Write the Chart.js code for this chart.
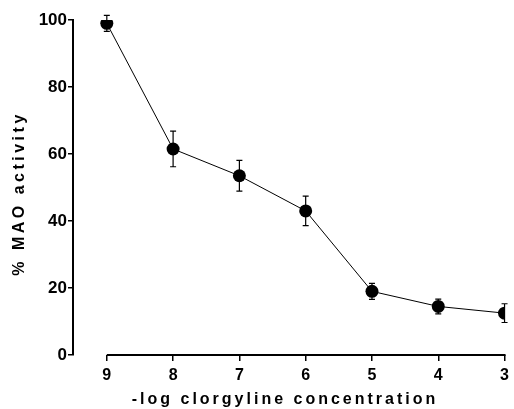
<!DOCTYPE html>
<html>
<head>
<meta charset="utf-8">
<script src="https://cdn.jsdelivr.net/npm/chart.js@4/dist/chart.umd.min.js"></script>
<style>
  html, body { margin: 0; padding: 0; background: #fff; }
  #wrap { width: 514px; height: 409px; }
</style>
</head>
<body>
<div id="wrap"><canvas id="c" width="514" height="409"></canvas></div>
<script>
// -log clorgyline concentration (x) and % MAO activity (mean ± error)
const logConc = [9, 8, 7, 6, 5, 4, 3];
const maoActivity = [99, 61.5, 53.5, 43, 19, 14.5, 12.5];
const maoError = [2.4, 5.3, 4.6, 4.4, 2.4, 2.2, 2.8];
const yTicks = [0, 20, 40, 60, 80, 100];
const xTitle = '-log clorgyline concentration';
const yTitle = '% MAO activity';

const FONT = '"Liberation Sans", Arial, Helvetica, sans-serif';

const errorBars = {
  id: 'errorBars',
  beforeDatasetsDraw(chart) {
    const ctx = chart.ctx;
    const xs = chart.scales.x, ys = chart.scales.y;
    ctx.save();
    ctx.strokeStyle = '#000';
    ctx.lineWidth = 1.2;
    logConc.forEach((xv, i) => {
      const px = xs.getPixelForValue(xv);
      const top = ys.getPixelForValue(maoActivity[i] + maoError[i]);
      const bot = ys.getPixelForValue(maoActivity[i] - maoError[i]);
      ctx.beginPath();
      ctx.moveTo(px, top); ctx.lineTo(px, bot);
      ctx.moveTo(px - 3, top); ctx.lineTo(px + 3, top);
      ctx.moveTo(px - 3, bot); ctx.lineTo(px + 3, bot);
      ctx.stroke();
    });
    ctx.restore();
  },
  afterDraw(chart) {
    const ctx = chart.ctx;
    const xs = chart.scales.x, ys = chart.scales.y;
    const area = chart.chartArea;
    ctx.save();
    // x axis line spanning the category range only
    ctx.strokeStyle = '#000';
    ctx.lineWidth = 2;
    ctx.beginPath();
    ctx.moveTo(xs.getPixelForValue(logConc[0]), area.bottom);
    ctx.lineTo(xs.getPixelForValue(logConc[logConc.length - 1]) + 1, area.bottom);
    ctx.stroke();
    // titles
    ctx.fillStyle = '#000';
    ctx.font = 'bold 16px ' + FONT;
    ctx.letterSpacing = '3px';
    ctx.textAlign = 'center';
    ctx.textBaseline = 'alphabetic';
    ctx.fillText(xTitle, 285, 404);
    ctx.letterSpacing = '3.5px';
    ctx.translate(24, (area.top + area.bottom) / 2 + 6);
    ctx.rotate(-Math.PI / 2);
    ctx.fillText(yTitle, 0, 0);
    ctx.restore();
  }
};

new Chart(document.getElementById('c'), {
  type: 'line',
  data: {
    datasets: [{
      data: logConc.map((x, i) => ({ x: x, y: maoActivity[i] })),
      borderColor: '#000',
      borderWidth: 1,
      backgroundColor: '#000',
      pointBackgroundColor: '#000',
      pointBorderColor: '#000',
      pointRadius: 6.5,
      pointBorderWidth: 0,
      tension: 0
    }]
  },
  options: {
    responsive: false,
    animation: false,
    events: [],
    layout: { padding: { top: 20, right: 7, left: 0, bottom: 0 } },
    plugins: { legend: { display: false }, tooltip: { enabled: false } },
    scales: {
      x: {
        type: 'linear',
        reverse: true,
        min: 3,
        max: 9.51,
        afterFit(scale) { scale.height = 54; },
        afterBuildTicks(scale) { scale.ticks = logConc.map(v => ({ value: v })); },
        border: { display: false },
        grid: { drawOnChartArea: false, drawTicks: true, tickLength: 6, color: '#000', lineWidth: 1.5 },
        ticks: {
          includeBounds: false,
          padding: 5,
          color: '#000',
          font: { family: FONT, size: 16, weight: 'bold' },
          maxRotation: 0
        }
      },
      y: {
        min: 0,
        max: 100,
        afterFit(scale) { scale.width = 73; },
        afterBuildTicks(scale) { scale.ticks = yTicks.map(v => ({ value: v })); },
        border: { display: true, color: '#000', width: 2 },
        grid: { drawOnChartArea: false, drawTicks: true, tickLength: 5, color: '#000', lineWidth: 1.5 },
        ticks: {
          padding: 1,
          color: '#000',
          font: { family: FONT, size: 17, weight: 'bold' }
        }
      }
    }
  },
  plugins: [errorBars]
});
</script>
</body>
</html>
